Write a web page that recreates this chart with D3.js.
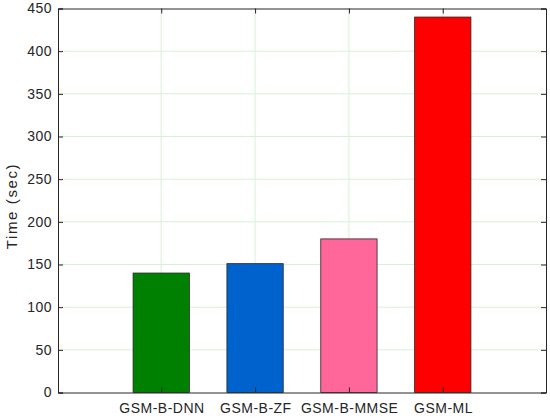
<!DOCTYPE html>
<html><head><meta charset="utf-8">
<script src="https://cdn.jsdelivr.net/npm/d3@7"></script>
<style>body{margin:0;background:#fff}svg{display:block}text{font-family:"Liberation Sans",Arial,sans-serif}</style>
</head><body><svg id="c" width="550" height="418"></svg>
<script>
const categories = ["GSM-B-DNN","GSM-B-ZF","GSM-B-MMSE","GSM-ML"];
const times = [140, 151, 180, 440];
const colors = ["#008000","#0062cc","#ff6699","#ff0000"];
const yTicks = [0,50,100,150,200,250,300,350,400,450];

const svg = d3.select("#c");
const L=58, R=546, T=8.5, B=392.5;
const x = d3.scaleLinear().domain([-0.1,5.1]).range([L,R]);
const y = d3.scaleLinear().domain([0,450]).range([B,T]);
const pos = categories.map((c,i)=>i+1);

// grid
const g = svg.append("g");
g.selectAll(".hg").data(yTicks.slice(1,-1)).join("line")
 .attr("x1",L).attr("x2",R).attr("y1",d=>y(d)).attr("y2",d=>y(d))
 .attr("stroke","#d8f0d8").attr("stroke-width",1);
g.selectAll(".vg").data(pos).join("line")
 .attr("y1",T).attr("y2",B).attr("x1",d=>x(d)).attr("x2",d=>x(d))
 .attr("stroke","#d8f0d8").attr("stroke-width",1);

// bars
const bw = x(0.6)-x(0);
svg.selectAll(".bar").data(times).join("rect")
 .attr("x",(d,i)=>x(pos[i])-bw/2).attr("width",bw)
 .attr("y",d=>y(d)).attr("height",d=>B-y(d))
 .attr("fill",(d,i)=>colors[i]).attr("stroke","#262626").attr("stroke-width",0.8);

// axes
const ax = "#262626";
const yl = svg.append("g").attr("transform",`translate(${L},0)`)
 .call(d3.axisLeft(y).tickValues(yTicks).tickSize(-5).tickPadding(6).tickFormat(d3.format("d")));
const yr = svg.append("g").attr("transform",`translate(${R},0)`)
 .call(d3.axisRight(y).tickValues(yTicks).tickSize(-5).tickFormat(""));
const xb = svg.append("g").attr("transform",`translate(0,${B})`)
 .call(d3.axisBottom(x).tickValues(pos).tickSize(-5).tickPadding(11).tickFormat((d,i)=>categories[i]));
const xt = svg.append("g").attr("transform",`translate(0,${T})`)
 .call(d3.axisTop(x).tickValues(pos).tickSize(-5).tickFormat(""));
[yl,yr,xb,xt].forEach(a=>{
 a.selectAll("path").attr("stroke",ax).attr("stroke-width",1);
 a.selectAll("line").attr("stroke",ax);
 a.selectAll("text").attr("fill",ax).style("font-size","14px").style("letter-spacing","0.5px")
  .style("font-family","'Liberation Sans',Arial,sans-serif");
});
xb.selectAll("text").attr("dx","0.25px");
svg.append("text").attr("transform",`translate(17,206) rotate(-90)`)
 .attr("text-anchor","middle").attr("fill",ax).style("font-size","15px").style("letter-spacing","1.6px").text("Time (sec)");
</script></body></html>
